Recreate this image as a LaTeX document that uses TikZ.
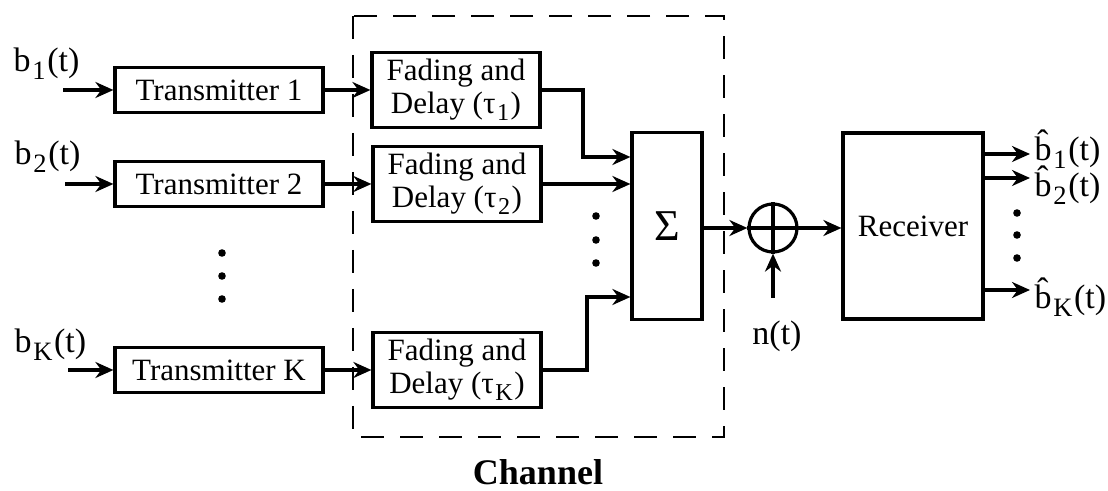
\documentclass[tikz,border=0pt]{standalone}
\usepackage{fontspec}
\usepackage{graphicx}
\setmainfont{Liberation Serif}
\usetikzlibrary{arrows.meta}
\newcommand{\sbs}[1]{\kern0.05em\raisebox{-0.5ex}{\scalebox{0.78}{#1}}\kern0.05em}
\newcommand{\bhat}{\^{b}}
\begin{document}
\begin{tikzpicture}[x=0.5pt,y=-0.5pt,
  line width=1.6pt,
  every node/.style={font=\fontsize{15.5}{16.5}\selectfont},
  blk/.style={draw,rectangle,inner sep=0pt},
  txbox/.style={blk,minimum width=104pt,minimum height=22.5pt},
  fadebox/.style={blk,minimum width=84pt,minimum height=37.5pt,align=center},
  arr/.style={-{Stealth[length=9pt,width=8pt]}},
  lbl/.style={inner sep=0pt,font=\fontsize{17}{18}\selectfont},
  dot/.style={circle,fill,inner sep=0pt,minimum size=3.8pt},
  chan/.style={dash pattern=on 11.5pt off 8pt,line width=1.4pt}
]
\useasboundingbox (0,0) rectangle (1108,491);

% transmitters
\node[txbox] (t1) at (219,90) {Transmitter 1};
\node[txbox] (t2) at (219,184) {Transmitter 2};
\node[txbox] (tk) at (219,370) {Transmitter K};

% input labels
\node[lbl,anchor=base west] (b1) at (12,72) {b\sbs{1}(t)};
\node[lbl,anchor=base west] (b2) at (13,165) {b\sbs{2}(t)};
\node[lbl,anchor=base west] (bk) at (13,353) {b\sbs{K}(t)};
\coordinate (i1) at (63,90);
\coordinate (i2) at (65,184);
\coordinate (ik) at (68,370);
\draw[arr] (i1) -- (t1);
\draw[arr] (i2) -- (t2);
\draw[arr] (ik) -- (tk);

% left dots
\node[dot] (ld1) at (222,253) {};
\node[dot] (ld2) at (222,276) {};
\node[dot] (ld3) at (222,299) {};

% channel box
\draw[chan] (353,16) rectangle (724,437);
\node[font=\fontsize{18}{20}\selectfont\bfseries] (ch) at (538,472) {Channel};

% fading
\node[fadebox] (f1) at (456,90) {Fading and\\Delay (τ\sbs{1})};
\node[fadebox] (f2) at (457,184) {Fading and\\Delay (τ\sbs{2})};
\node[fadebox] (fk) at (457,370) {Fading and\\Delay (τ\sbs{K})};
\draw[arr] (t1) -- (f1);
\draw[arr] (t2) -- (f2);
\draw[arr] (tk) -- (fk);

% sum
\node[blk,minimum width=35pt,minimum height=93.5pt,font=\fontsize{22}{24}\selectfont] (sum) at (667,226) {Σ};
\coordinate (s1) at (sum.west |- 0,157);
\coordinate (s2) at (sum.west |- f2.east);
\coordinate (sk) at (sum.west |- 0,297);
\draw[arr] (f1.east) -| (583,157) -- (s1);
\draw[arr] (f2.east) -- (s2);
\draw[arr] (fk.east) -| (587,297) -- (sk);
\node[dot] (cd1) at (596,216) {};
\node[dot] (cd2) at (596,240) {};
\node[dot] (cd3) at (596,263) {};

% adder
\node[draw,circle,minimum size=24pt,inner sep=0pt] (add) at (773,228) {};
\draw (add.north) -- (add.south) (add.west) -- (add.east);
\draw[arr] (sum.east |- add.west) -- (add.west);
\coordinate (n0) at (773,298);
\draw[arr] (n0) -- (add.south);
\node[lbl,anchor=base] (nt) at (777,345) {n(t)};

% receiver
\node[blk,minimum width=70pt,minimum height=93pt] (rx) at (913,226) {Receiver};
\draw[arr] (add.east) -- (add.east -| rx.west);

% outputs
\coordinate (o1) at (1030,154);
\coordinate (o2) at (1030,178);
\coordinate (ok) at (1030,290);
\draw[arr] (rx.east |- o1) -- (o1);
\draw[arr] (rx.east |- o2) -- (o2);
\draw[arr] (rx.east |- ok) -- (ok);
\node[lbl,anchor=base west] (ob1) at (1033,161) {\bhat\sbs{1}(t)};
\node[lbl,anchor=base west] (ob2) at (1033,197) {\bhat\sbs{2}(t)};
\node[lbl,anchor=base west] (obk) at (1033,309) {\bhat\sbs{K}(t)};
\node[dot] (rd1) at (1017,213) {};
\node[dot] (rd2) at (1017,235) {};
\node[dot] (rd3) at (1017,258) {};
\end{tikzpicture}
\end{document}
